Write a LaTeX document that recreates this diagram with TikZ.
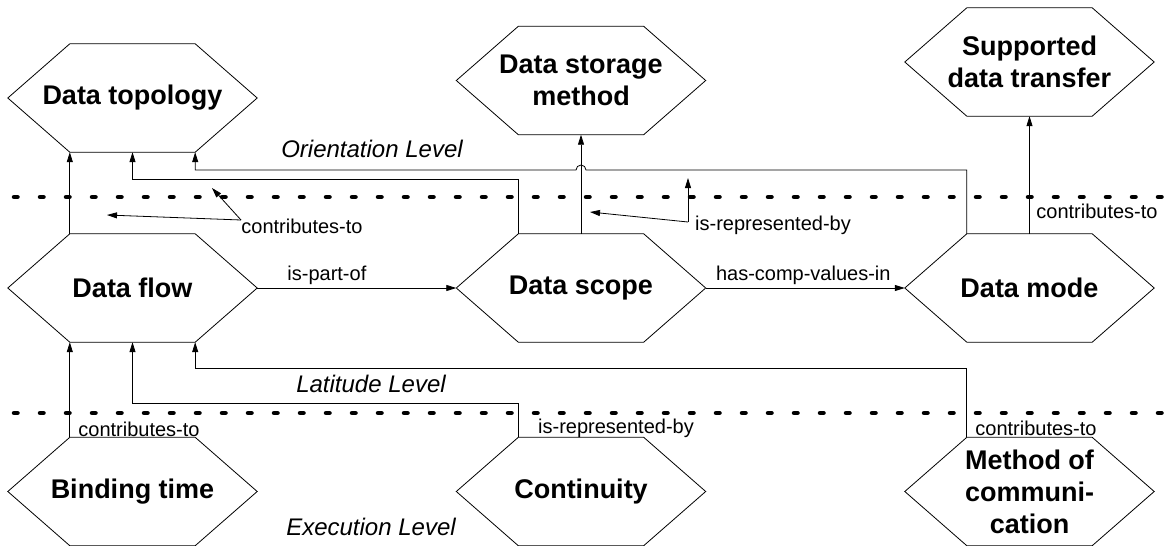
\documentclass[tikz,border=0pt]{standalone}
\usepackage{fontspec}
\setmainfont{Liberation Sans}
\usetikzlibrary{calc,arrows.meta}

\tikzset{
  hexbox/.style={minimum width=249pt, minimum height=108pt, inner sep=0pt, align=center,
    font=\fontsize{27}{32}\selectfont\bfseries},
  rel/.style={font=\fontsize{20}{24}\selectfont, inner sep=1pt},
  level/.style={font=\fontsize{24}{28}\selectfont\itshape},
  edge/.style={line width=0.8pt},
  arr/.style={line width=0.8pt, -{Triangle[length=10pt,width=6pt]}},
  levelline/.style={line width=4.5pt, line cap=round, dash pattern=on 3.5pt off 22.5pt},
}

% hexagon outline around a node, with its corners as coordinates
\newcommand{\hexoutline}[1]{
  \coordinate (#1-tl) at ($(#1.north west)+(62,0)$);
  \coordinate (#1-tr) at ($(#1.north east)+(-62,0)$);
  \coordinate (#1-bl) at ($(#1.south west)+(62,0)$);
  \coordinate (#1-br) at ($(#1.south east)+(-62,0)$);
  \draw[edge] (#1-tl) -- (#1-tr) -- (#1.east) -- (#1-br) -- (#1-bl) -- (#1.west) -- cycle;
}

\begin{document}
\begin{tikzpicture}[x=1pt, y=-1pt]
    \useasboundingbox (0,0) rectangle (1165,546);

    % level separators
    \draw[levelline] (14,197) -- (1165,197);
    \draw[levelline] (14,413) -- (1165,413);
    \node[level] (orient) at (372,149) {Orientation Level};
    \node[level] (latit) at (371,384) {Latitude Level};
    \node[level] (exec) at (371,527) {Execution Level};

    % concepts
    \node[hexbox] (topo) at (132.5,98) {Data topology};
    \node[hexbox] (store) at (581,80.5) {Data storage\\method};
    \node[hexbox] (trans) at (1029.5,62) {Supported\\data transfer};
    \node[hexbox] (flow) at (132.5,288) {Data flow};
    \node[hexbox] (scope) at (581,288) {Data scope};
    \node[hexbox] (mode) at (1029.5,288) {Data mode};
    \node[hexbox] (bind) at (132.5,491.5) {Binding time};
    \node[hexbox] (cont) at (581,491.5) {Continuity};
    \node[hexbox] (comm) at (1029.5,491.5) {Method of\\communi-\\cation};
    \foreach \n in {topo,store,trans,flow,scope,mode,bind,cont,comm} {\hexoutline{\n}}

    % bus heights
    \coordinate (yA) at (0,170);
    \coordinate (yB) at (0,179);
    \coordinate (yC) at (0,368);
    \coordinate (yD) at (0,403);

    % orientation level
    \draw[arr] (flow-tl) -- (topo-bl);
    \draw[arr] (scope-tl) -- (scope-tl |- yB) -- (topo.south |- yB) -- (topo.south);
    \draw[arr] (mode-tl) -- (mode-tl |- yA) -- ($(scope.north |- yA)+(5,0)$)
        arc[start angle=0, end angle=180, radius=5pt] -- (topo-br |- yA) -- (topo-br);
    \draw[arr] (scope.north) -- (store.south);
    \draw[arr] (mode.north) -- (trans.south);

    \node[rel] (ct1) at (302,226) {contributes-to};
    \coordinate (ct1k) at (241,220);
    \coordinate (ct1a) at (107,215);
    \coordinate (ct1b) at (212,188);
    \draw[arr] (ct1k) -- (ct1a);
    \draw[arr] (ct1k) -- (ct1b);

    \node[rel] (rb1) at (773,225) {is-represented-by};
    \coordinate (rb1k) at (688,222);
    \coordinate (rb1a) at (590,212);
    \coordinate (rb1b) at (688,178);
    \draw[arr] (rb1k) -- (rb1a);
    \draw[arr] (rb1k) -- (rb1b);

    \node[rel] (ct2) at (1097,211) {contributes-to};

    % latitude level
    \draw[arr] (flow.east) -- node[rel, above=2pt, pos=.35] {is-part-of} (scope.west);
    \draw[arr] (scope.east) -- node[rel, above=2pt, pos=.49] {has-comp-values-in} (mode.west);

    % execution level
    \draw[arr] (bind-tl) -- (flow-bl);
    \draw[arr] (cont-tl) -- (cont-tl |- yD) -- (flow.south |- yD) -- (flow.south);
    \draw[arr] (comm-tl) -- (comm-tl |- yC) -- (flow-br |- yC) -- (flow-br);

    \node[rel] (ct3) at (139,429) {contributes-to};
    \node[rel] (rb2) at (616,428) {is-represented-by};
    \node[rel] (ct4) at (1036,428) {contributes-to};
\end{tikzpicture}
\end{document}
